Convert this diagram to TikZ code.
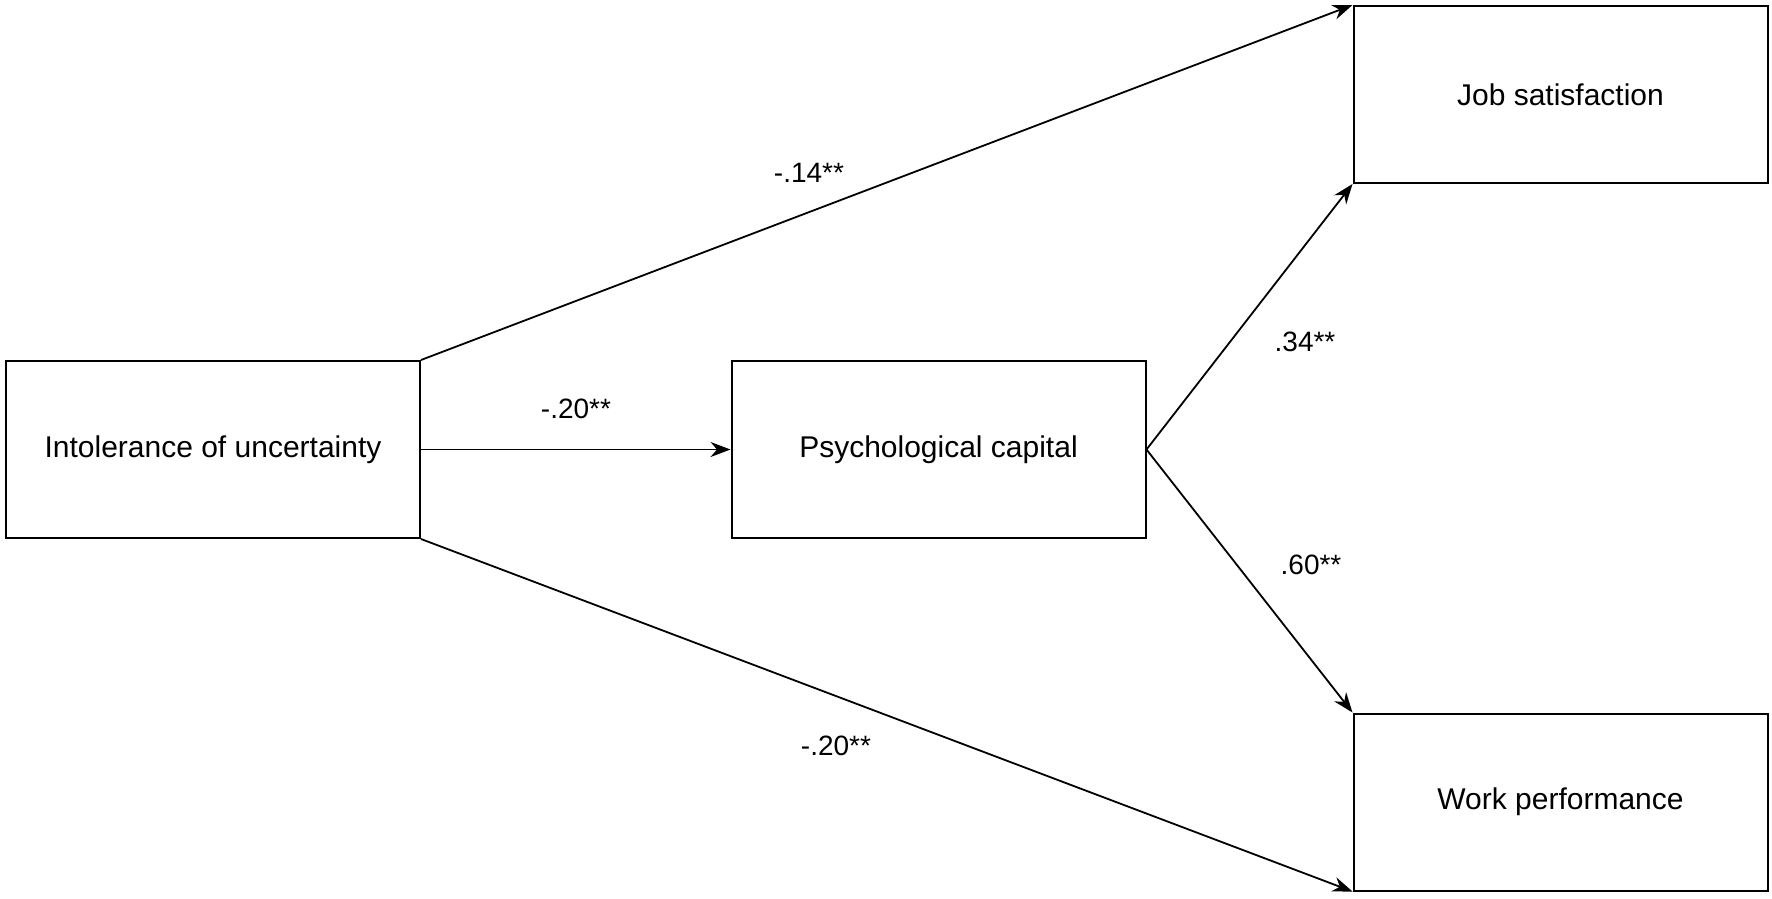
\documentclass[tikz,border=0pt]{standalone}
\usepackage{fontspec}
\setmainfont{Liberation Sans}
\usetikzlibrary{arrows.meta}
\begin{document}
\begin{tikzpicture}[x=1pt,y=-1pt,
  box/.style={draw,line width=2pt,minimum width=414pt,minimum height=177pt,inner sep=0pt,font=\fontsize{30}{36}\selectfont},
  arr/.style={line width=1.8pt,-{Stealth[length=20pt,width=15pt]}},
  lab/.style={font=\fontsize{28}{34}\selectfont}]
\useasboundingbox (0,0) rectangle (1772,898);
\node[box] (iu) at (213,449.5) {Intolerance of uncertainty};
\node[box] (pc) at (938.5,449.5) {Psychological capital};
\node[box] (js) at (1560.5,94.5) {Job satisfaction};
\node[box] (wp) at (1560.5,802) {Work performance};
\draw[arr] (iu.north east) -- (js.north west);
\draw[arr] (iu.south east) -- (wp.south west);
\draw[arr] (iu.east) -- (pc.west);
\draw[arr] (pc.east) -- (js.south west);
\draw[arr] (pc.east) -- (wp.north west);
\node[lab] (l1) at (809,173) {-.14**};
\node[lab] (l2) at (576,409) {-.20**};
\node[lab] (l3) at (1305,342) {.34**};
\node[lab] (l4) at (1311,565) {.60**};
\node[lab] (l5) at (836,746) {-.20**};
\end{tikzpicture}
\end{document}
